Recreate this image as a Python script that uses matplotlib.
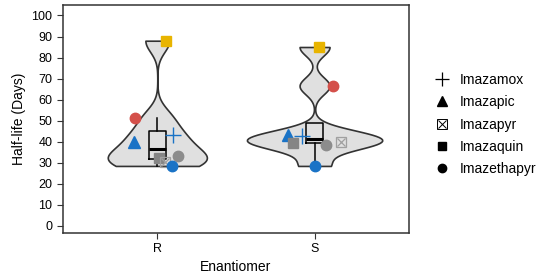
import numpy as np
import matplotlib.pyplot as plt
from matplotlib.lines import Line2D

plt.rcParams['font.family'] = ['Liberation Sans', 'DejaVu Sans']

groups = ['R', 'S']
# herbicide, marker, colour, half-life, x offset (jitter)
herb_R = ['Imazaquin', 'Imazethapyr', 'Imazapic', 'Imazamox', 'Imazaquin', 'Imazapyr', 'Imazethapyr', 'Imazethapyr']
vals_R = [88, 51.3, 39.9, 43.2, 32.2, 30.3, 33.2, 28.4]
cols_R = ['#e8b400', '#d4504a', '#1a73c6', '#1a73c6', '#858585', '#a0a0a0', '#8c8c8c', '#1a73c6']
jit_R = [0.057, -0.14, -0.146, 0.10, 0.013, 0.05, 0.13, 0.095]

herb_S = ['Imazaquin', 'Imazethapyr', 'Imazapic', 'Imazamox', 'Imazaquin', 'Imazethapyr', 'Imazapyr', 'Imazethapyr']
vals_S = [85, 66.5, 43.2, 42.7, 39.4, 38.5, 39.9, 28.4]
cols_S = ['#e8b400', '#d4504a', '#1a73c6', '#1a73c6', '#858585', '#8c8c8c', '#a0a0a0', '#1a73c6']
jit_S = [0.025, 0.12, -0.17, -0.08, -0.14, 0.07, 0.165, 0.0]

markers = {'Imazamox': '+', 'Imazapic': '^', 'Imazapyr': 'xbox', 'Imazaquin': 's', 'Imazethapyr': 'o'}

fig = plt.figure(figsize=(5.5, 2.77), dpi=100)
ax = fig.add_axes([0.1145, 0.159, 0.629, 0.823])

data = [vals_R, vals_S]
pos = [0, 1]
for d, p, w, bw in zip(data, pos, [0.63, 0.86], [0.27, 0.22]):
    vp = ax.violinplot([d], positions=[p], widths=[w], showextrema=False, bw_method=bw)
    for b in vp['bodies']:
        b.set_facecolor('#e0e0e0')
        b.set_edgecolor('#333333')
        b.set_linewidth(1.2)
        b.set_alpha(1)

ax.boxplot(data, positions=pos, widths=0.11, showfliers=False, showcaps=False,
           boxprops=dict(color='black', linewidth=1.1),
           whiskerprops=dict(color='black', linewidth=1.1),
           medianprops=dict(color='black', linewidth=2.2))

def draw_points(x0, herbs, vals, cols, jit):
    for h, v, c, j in zip(herbs, vals, cols, jit):
        m = markers[h]
        x = x0 + j
        if m == 'xbox':
            ax.plot(x, v, marker='s', mfc='none', mec=c, ms=7, mew=0.9, zorder=4)
            ax.plot(x, v, marker='x', color=c, ms=6, mew=0.9, zorder=4)
        elif m == '+':
            ax.plot(x, v, marker='+', color=c, ms=12, mew=1.0, zorder=4)
        elif m == '^':
            ax.plot(x, v, marker='^', color=c, ms=8.5, zorder=4)
        else:
            ax.plot(x, v, marker=m, color=c, ms=7.5, zorder=4)

draw_points(0, herb_R, vals_R, cols_R, jit_R)
draw_points(1, herb_S, vals_S, cols_S, jit_S)

ax.set_xlim(-0.6, 1.6)
ax.set_ylim(-3.5, 105)
ax.set_yticks(range(0, 101, 10))
ax.set_xticks(pos)
ax.set_xticklabels(groups)
ax.tick_params(labelsize=9, length=4, color='#333333')
for s in ax.spines.values():
    s.set_linewidth(1.1)
    s.set_color('#333333')
ax.set_xlabel('Enantiomer', fontsize=10, labelpad=3)
ax.set_ylabel('Half-life (Days)', fontsize=10)

handles = [
    Line2D([], [], ls='none', marker='+', color='black', ms=10, mew=0.9),
    Line2D([], [], ls='none', marker='^', color='black', ms=7),
    (Line2D([], [], ls='none', marker='s', mfc='none', mec='black', ms=6.5, mew=0.7),
     Line2D([], [], ls='none', marker='x', color='black', ms=5.5, mew=0.7)),
    Line2D([], [], ls='none', marker='s', color='black', ms=6),
    Line2D([], [], ls='none', marker='o', color='black', ms=6),
]
labels = ['Imazamox', 'Imazapic', 'Imazapyr', 'Imazaquin', 'Imazethapyr']
fig.legend(handles, labels, loc='center left', bbox_to_anchor=(0.765, 0.55), frameon=False,
           fontsize=10, handlelength=1.2, handletextpad=0.7, labelspacing=0.6)

fig.savefig('out.png', dpi=100)
